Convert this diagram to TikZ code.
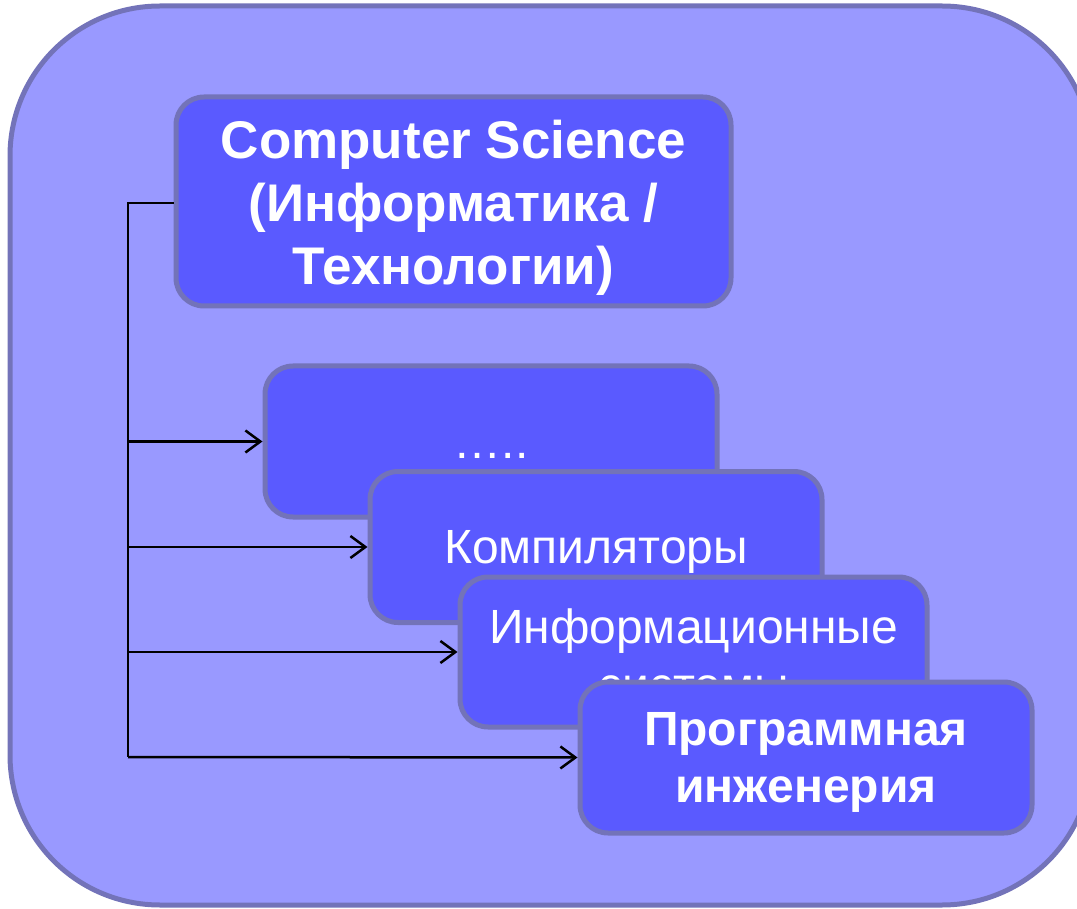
\documentclass[tikz,border=0pt]{standalone}
\usepackage{fontspec}
\setmainfont{Liberation Sans}
\usetikzlibrary{arrows.meta}
\definecolor{outerfill}{HTML}{9999FF}
\definecolor{edgecol}{HTML}{7373B9}
\definecolor{boxfill}{HTML}{5A5AFF}
\tikzset{
  outerpanel/.style={draw=edgecol, fill=outerfill, line width=5pt, rounded corners=150pt},
  topicbox/.style={draw=edgecol, fill=boxfill, line width=5pt, rounded corners=28pt,
    inner sep=0pt, anchor=center},
  boxtext/.style={text=white, align=center, inner sep=0pt},
  reg/.style={boxtext, font=\fontsize{48}{58}\selectfont},
  boldtext/.style={boxtext, font=\fontsize{48}{57}\bfseries\selectfont},
  cstext/.style={boxtext, font=\fontsize{53}{63}\bfseries\selectfont},
  link/.style={draw=black, line width=2.5pt},
  arrowlink/.style={link, -{Straight Barb[length=15pt,width=22pt,line width=2.5pt]}}
}
\begin{document}
\begin{tikzpicture}[x=1pt,y=-1pt]
\clip (0,0) rectangle (1077,909);
\useasboundingbox (0,0) rectangle (1077,909);
\draw[outerpanel] (10,6) rectangle (1092,905);

\node[topicbox, minimum width=555pt, minimum height=209pt,
  label={[cstext, yshift=-6pt]center:{Computer Science\\(Информатика /\\Технологии)}}]
  (cs) at (453.5,201.5) {};

\coordinate (trunkTop) at (128,203);
\coordinate (trunkBot) at (128,757);
\draw[link] (cs.west |- trunkTop) -- (trunkTop) -- (trunkBot);

\node[topicbox, minimum width=452pt, minimum height=151pt,
  label={[reg, yshift=-14pt]center:{…..}}] (dots) at (491,441.5) {};
\node[topicbox, minimum width=452pt, minimum height=151pt,
  label={[reg, yshift=-5pt]center:{Компиляторы}}] (comp) at (596,547) {};
\node[topicbox, minimum width=467pt, minimum height=150pt,
  label={[reg, yshift=-3pt]center:{Информационные\\системы}}] (info) at (693.5,652) {};
\node[topicbox, minimum width=452pt, minimum height=151pt,
  label={[boldtext, yshift=-5pt]center:{Программная\\инженерия}}] (prog) at (806,757.5) {};

\draw[arrowlink] (trunkTop |- dots.west) -- (dots.west);
\draw[arrowlink] (trunkTop |- comp.west) -- (comp.west);
\draw[arrowlink] (trunkTop |- info.west) -- (info.west);
\draw[arrowlink] (trunkBot) -- (prog.west);
\end{tikzpicture}
\end{document}
